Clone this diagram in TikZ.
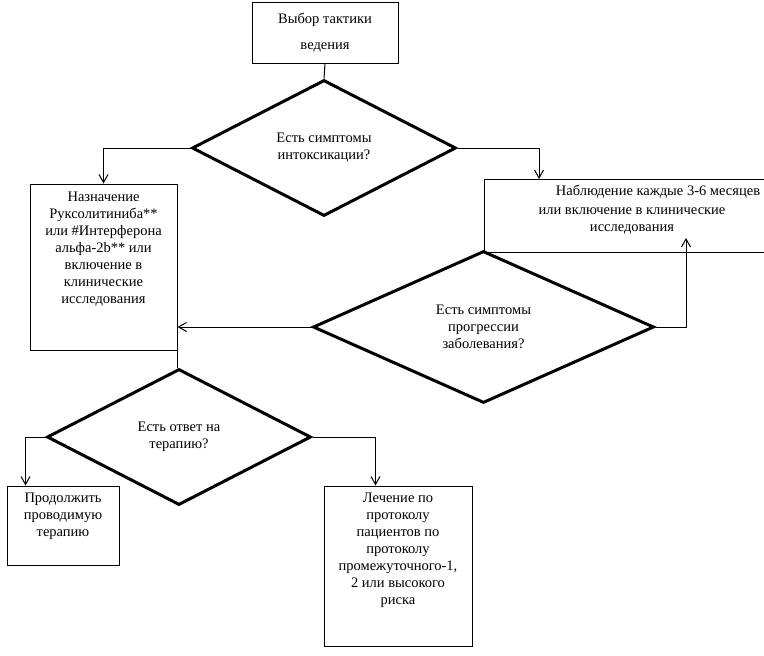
\documentclass[tikz,border=0pt]{standalone}
\usepackage{fontspec}
\setmainfont{Liberation Serif}
\usetikzlibrary{shapes.geometric,arrows.meta}

\begin{document}
\begin{tikzpicture}[x=1pt,y=-1pt,
    box/.style={draw,line width=1pt,rectangle,inner sep=0pt},
    txt/.style={align=center,inner sep=0pt,font=\fontsize{14.5}{17}\selectfont},
    decision/.style={draw,line width=3pt,diamond,inner sep=0pt,align=center,font=\fontsize{14.5}{17}\selectfont},
    arr/.style={line width=1pt,-{Straight Barb[length=8pt,width=9pt]}}]
  \useasboundingbox (0,0) rectangle (764,656);
  % boxes and decisions
  \node[box,txt,minimum width=146,minimum height=61] (start) at (325,32.5) {Выбор тактики\\[9pt]ведения};
  \node[decision,minimum width=264,minimum height=136] (intox) at (324,148) {Есть симптомы\\интоксикации?};
  \node[box,minimum width=147,minimum height=166] (rux) at (103.5,267) {};
  \node[txt,anchor=north] (rux-t) at ([yshift=-8pt]rux.north) {Назначение\\Руксолитиниба**\\или \#Интерферона\\альфа-2b** или\\включение в\\клинические\\исследования};
  \node[box,minimum width=296,minimum height=73,anchor=north west] (watch) at (484,179) {};
  \node[txt,anchor=north] (watch-t) at (632,185) {\hspace*{52pt}Наблюдение каждые 3-6 месяцев\\[2pt]или включение в клинические\\исследования};
  \node[decision,minimum width=341,minimum height=152] (progr) at (483.5,327) {Есть симптомы\\прогрессии\\заболевания?};
  \node[decision,minimum width=264,minimum height=136] (resp) at (179,437) {Есть ответ на\\терапию?};
  \node[box,minimum width=112,minimum height=79] (cont) at (63,525.5) {};
  \node[txt,anchor=north] (cont-t) at ([yshift=-7pt]cont.north) {Продолжить\\проводимую\\терапию};
  \node[box,minimum width=148,minimum height=160] (proto) at (398,566) {};
  \node[txt,anchor=north] (proto-t) at ([yshift=-7pt]proto.north) {Лечение по\\протоколу\\пациентов по\\протоколу\\промежуточного-1,\\2 или высокого\\риска};
  % connectors
  \draw[line width=1pt] (start.south) -- (intox.north);
  \draw[arr] (intox.west) -| (rux.north);
  \draw[arr] (intox.east) -| ([xshift=55pt]watch.north west);
  \draw[arr] (progr.east) -| ([xshift=202pt,yshift=15pt]watch.south west);
  \draw[arr] (progr.west) -- (progr.west -| rux.east);
  \draw[line width=1pt] (rux.south east) -- (rux.south east |- resp.north);
  \draw[arr] (resp.west) -| ([xshift=19pt]cont.north west);
  \draw[arr] (resp.east) -| ([xshift=52pt]proto.north west);
\end{tikzpicture}
\end{document}
